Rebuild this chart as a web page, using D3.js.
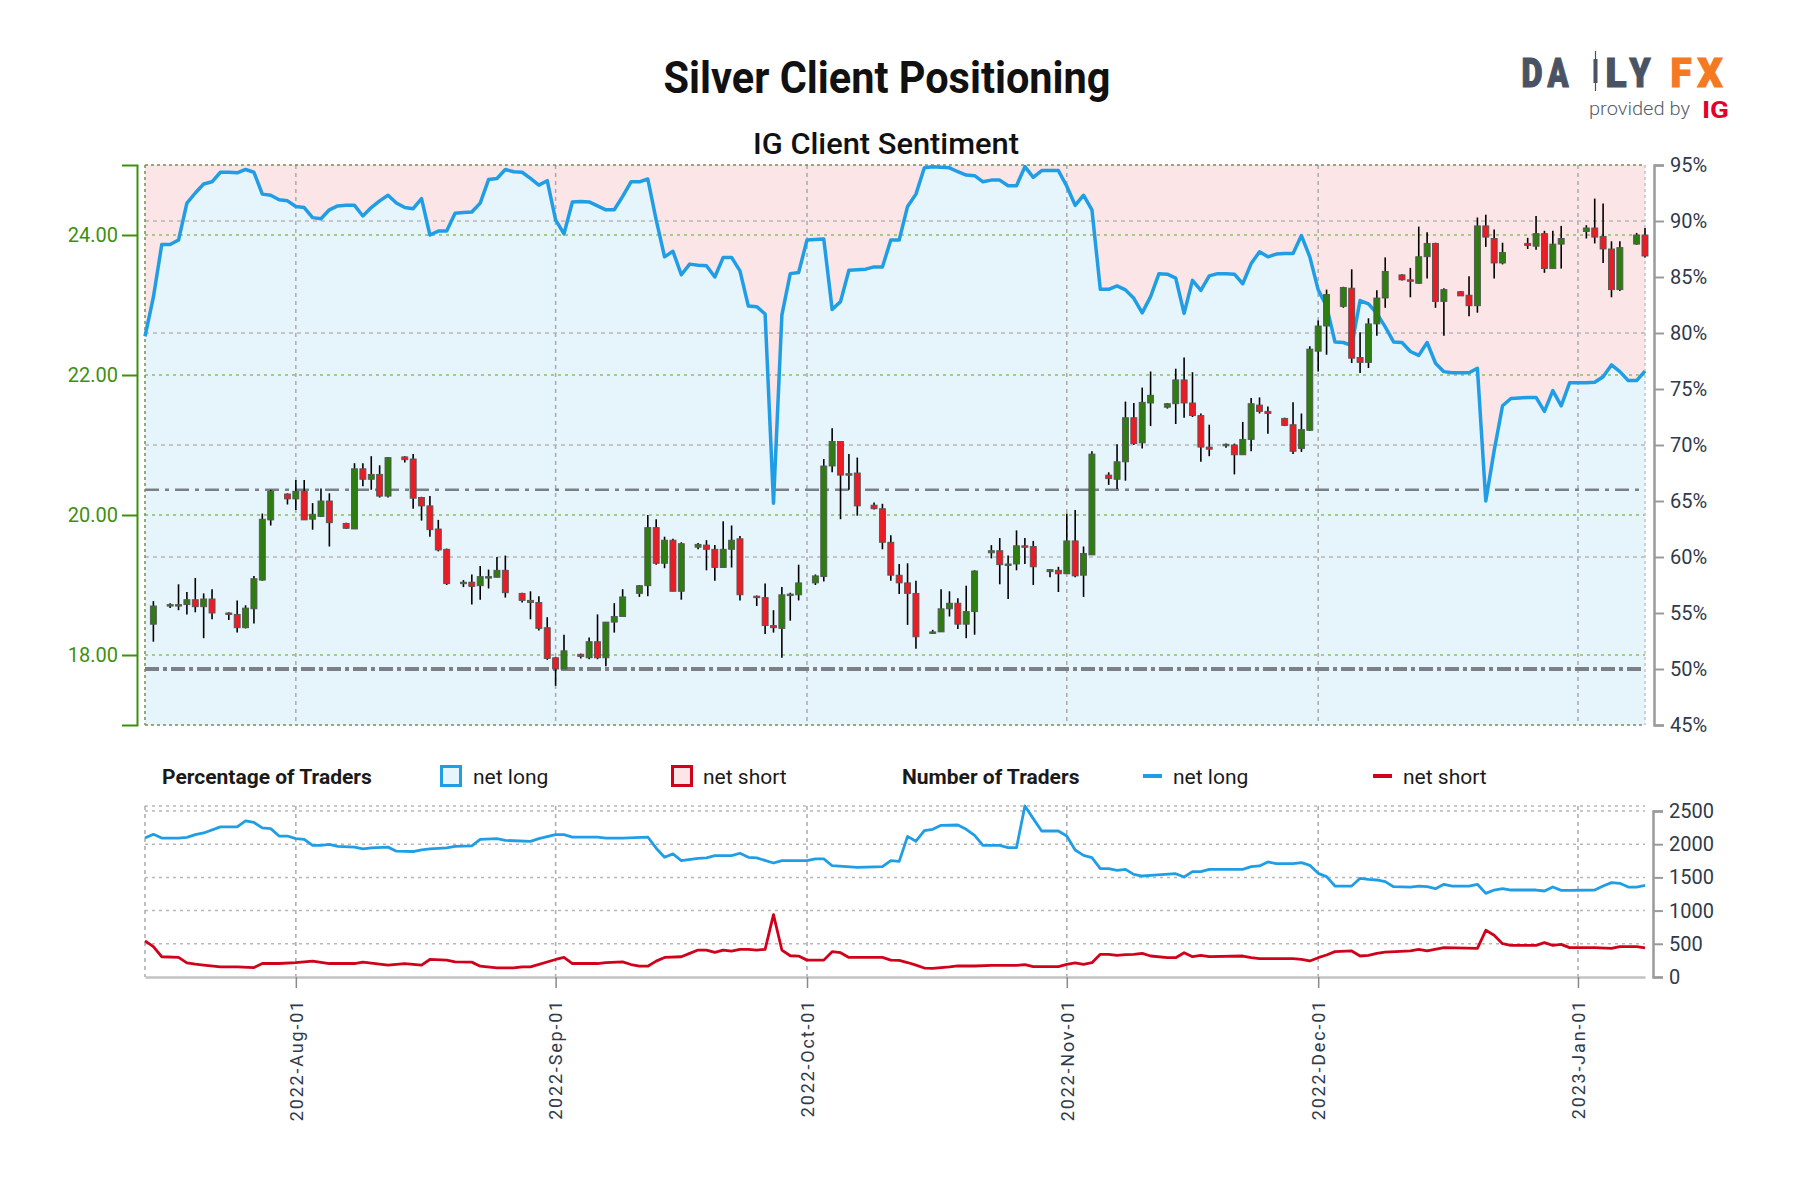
<!DOCTYPE html>
<html>
<head>
<meta charset="utf-8">
<script src="https://cdnjs.cloudflare.com/ajax/libs/d3/7.8.5/d3.min.js"></script>
<style>
  body { margin: 0; background: #fff; }
  svg { display: block; font-family: Roboto, "Noto Sans", sans-serif; }
</style>
</head>
<body>
<svg id="chart" width="1800" height="1200"></svg>
<script>
// daily silver candles: date, open, high, low, close
const priceRows = [
  ['2022-07-15',18.44,18.77,18.19,18.70],['2022-07-17',18.70,18.74,18.67,18.72],['2022-07-18',18.71,19.01,18.64,18.72],
  ['2022-07-19',18.72,18.90,18.58,18.79],['2022-07-20',18.79,19.10,18.61,18.69],['2022-07-21',18.69,18.88,18.24,18.80],
  ['2022-07-22',18.80,18.94,18.51,18.60],['2022-07-24',18.60,18.61,18.50,18.58],['2022-07-25',18.58,18.78,18.32,18.39],
  ['2022-07-26',18.39,18.71,18.38,18.67],['2022-07-27',18.66,19.13,18.45,19.09],['2022-07-28',19.07,20.02,19.06,19.94],
  ['2022-07-29',19.93,20.36,19.85,20.34],['2022-07-31',20.30,20.31,20.15,20.23],['2022-08-01',20.23,20.50,20.07,20.34],
  ['2022-08-02',20.34,20.50,19.93,19.93],['2022-08-03',19.94,20.17,19.79,20.01],['2022-08-04',19.98,20.38,19.97,20.20],
  ['2022-08-05',20.20,20.31,19.55,19.89],['2022-08-07',19.88,19.89,19.80,19.81],['2022-08-08',19.80,20.74,19.80,20.66],
  ['2022-08-09',20.66,20.74,20.41,20.51],['2022-08-10',20.51,20.84,20.36,20.58],['2022-08-11',20.58,20.71,20.25,20.27],
  ['2022-08-12',20.27,20.83,20.25,20.82],['2022-08-14',20.83,20.84,20.75,20.79],['2022-08-15',20.80,20.87,20.09,20.24],
  ['2022-08-16',20.25,20.26,19.92,20.13],['2022-08-17',20.13,20.27,19.69,19.79],['2022-08-18',19.80,19.93,19.48,19.50],
  ['2022-08-19',19.51,19.52,19.00,19.02],['2022-08-21',19.03,19.07,18.97,19.04],['2022-08-22',19.04,19.15,18.72,18.98],
  ['2022-08-23',18.99,19.27,18.79,19.12],['2022-08-24',19.12,19.22,18.95,19.12],['2022-08-25',19.11,19.40,19.11,19.21],
  ['2022-08-26',19.21,19.42,18.82,18.89],['2022-08-28',18.88,18.89,18.75,18.78],['2022-08-29',18.78,18.91,18.51,18.75],
  ['2022-08-30',18.75,18.84,18.35,18.38],['2022-08-31',18.39,18.54,17.93,17.95],['2022-09-01',17.96,17.97,17.56,17.80],
  ['2022-09-02',17.80,18.29,17.80,18.06],['2022-09-04',18.01,18.02,17.95,17.98],['2022-09-05',17.96,18.25,17.94,18.19],
  ['2022-09-06',18.19,18.58,17.94,17.96],['2022-09-07',17.96,18.47,17.84,18.47],['2022-09-08',18.47,18.74,18.32,18.55],
  ['2022-09-09',18.55,18.94,18.55,18.83],['2022-09-11',18.88,19.00,18.83,18.99],['2022-09-12',18.99,20.00,18.84,19.82],
  ['2022-09-13',19.82,19.94,19.29,19.31],['2022-09-14',19.31,19.69,19.24,19.64],['2022-09-15',19.64,19.66,18.91,18.91],
  ['2022-09-16',18.91,19.61,18.79,19.59],['2022-09-18',19.54,19.60,19.51,19.58],['2022-09-19',19.57,19.64,19.21,19.51],
  ['2022-09-20',19.51,19.57,19.06,19.25],['2022-09-21',19.25,19.91,19.25,19.51],['2022-09-22',19.51,19.85,19.25,19.64],
  ['2022-09-23',19.66,19.70,18.78,18.86],['2022-09-25',18.84,18.85,18.70,18.82],['2022-09-26',18.82,19.02,18.30,18.42],
  ['2022-09-27',18.42,18.64,18.32,18.39],['2022-09-28',18.38,18.97,17.96,18.86],['2022-09-29',18.86,18.89,18.49,18.87],
  ['2022-09-30',18.86,19.29,18.78,19.03],['2022-10-02',19.03,19.15,19.00,19.13],['2022-10-03',19.12,20.80,19.05,20.70],
  ['2022-10-04',20.70,21.24,20.61,21.05],['2022-10-05',21.05,21.05,19.94,20.57],['2022-10-06',20.58,20.87,20.36,20.59],
  ['2022-10-07',20.60,20.82,19.99,20.13],['2022-10-09',20.14,20.18,20.08,20.09],['2022-10-10',20.09,20.16,19.51,19.61],
  ['2022-10-11',19.61,19.71,19.06,19.14],['2022-10-12',19.14,19.30,18.87,19.03],['2022-10-13',19.03,19.31,18.43,18.88],
  ['2022-10-14',18.88,19.06,18.09,18.26],['2022-10-16',18.31,18.36,18.30,18.33],['2022-10-17',18.33,18.94,18.33,18.66],
  ['2022-10-18',18.66,18.91,18.55,18.74],['2022-10-19',18.74,18.81,18.37,18.44],['2022-10-20',18.44,18.99,18.24,18.62],
  ['2022-10-21',18.62,19.21,18.29,19.20],['2022-10-23',19.46,19.57,19.38,19.49],['2022-10-24',19.49,19.67,19.01,19.29],
  ['2022-10-25',19.29,19.42,18.80,19.30],['2022-10-26',19.30,19.78,19.21,19.56],['2022-10-27',19.56,19.67,19.30,19.54],
  ['2022-10-28',19.55,19.63,19.00,19.26],['2022-10-30',19.19,19.23,19.11,19.22],['2022-10-31',19.21,19.26,18.90,19.16],
  ['2022-11-01',19.16,20.02,19.16,19.63],['2022-11-02',19.63,20.07,19.11,19.13],['2022-11-03',19.14,19.55,18.83,19.45],
  ['2022-11-04',19.43,20.91,19.43,20.87],['2022-11-06',20.57,20.61,20.43,20.52],['2022-11-07',20.51,21.01,20.37,20.76],
  ['2022-11-08',20.76,21.62,20.49,21.39],['2022-11-09',21.39,21.60,21.00,21.02],['2022-11-10',21.03,21.82,20.95,21.61],
  ['2022-11-11',21.60,22.05,21.27,21.71],['2022-11-13',21.54,21.60,21.52,21.59],['2022-11-14',21.59,22.09,21.30,21.93],
  ['2022-11-15',21.93,22.25,21.39,21.60],['2022-11-16',21.60,22.04,21.40,21.42],['2022-11-17',21.42,21.45,20.76,20.97],
  ['2022-11-18',20.97,21.29,20.84,20.94],['2022-11-20',21.00,21.02,20.96,21.01],['2022-11-21',21.00,21.02,20.58,20.86],
  ['2022-11-22',20.86,21.33,20.86,21.08],['2022-11-23',21.08,21.67,20.91,21.59],['2022-11-24',21.57,21.68,21.45,21.48],
  ['2022-11-25',21.48,21.55,21.16,21.45],['2022-11-27',21.38,21.39,21.27,21.28],['2022-11-28',21.29,21.61,20.87,20.91],
  ['2022-11-29',20.95,21.45,20.90,21.22],['2022-11-30',21.21,22.41,21.20,22.37],['2022-12-01',22.34,22.78,22.05,22.70],
  ['2022-12-02',22.70,23.22,22.29,23.15],['2022-12-04',22.98,23.26,22.96,23.25],['2022-12-05',23.24,23.51,22.17,22.24],
  ['2022-12-06',22.25,22.61,22.03,22.18],['2022-12-07',22.18,22.81,22.10,22.73],['2022-12-08',22.73,23.21,22.56,23.10],
  ['2022-12-09',23.10,23.68,22.96,23.48],['2022-12-11',23.43,23.44,23.35,23.36],['2022-12-12',23.36,23.53,23.11,23.35],
  ['2022-12-13',23.31,24.12,23.30,23.69],['2022-12-14',23.69,24.04,23.38,23.88],['2022-12-15',23.88,23.89,22.96,23.05],
  ['2022-12-16',23.05,23.24,22.56,23.22],['2022-12-18',23.19,23.20,23.13,23.13],['2022-12-19',23.14,23.41,22.84,22.99],
  ['2022-12-20',22.99,24.25,22.89,24.13],['2022-12-21',24.13,24.29,23.83,23.97],['2022-12-22',23.95,24.08,23.38,23.60],
  ['2022-12-23',23.60,23.89,23.58,23.75],['2022-12-26',23.88,23.96,23.80,23.85],['2022-12-27',23.84,24.27,23.79,24.02],
  ['2022-12-28',24.02,24.06,23.46,23.52],['2022-12-29',23.52,24.06,23.52,23.87],['2022-12-30',23.87,24.13,23.52,23.95],
  ['2023-01-02',24.05,24.14,23.95,24.10],['2023-01-03',24.10,24.52,23.88,23.97],['2023-01-04',23.98,24.45,23.60,23.80],
  ['2023-01-05',23.80,23.91,23.11,23.22],['2023-01-06',23.22,23.91,23.20,23.82],['2023-01-08',23.87,24.03,23.86,24.00],
  ['2023-01-09',24.00,24.10,23.68,23.70]
];

// % of traders net long
const longPct = [
  ['2022-07-14',79.7],['2022-07-15',83.2],['2022-07-16',87.9],['2022-07-17',87.9],['2022-07-18',88.3],['2022-07-19',91.6],
  ['2022-07-20',92.5],['2022-07-21',93.3],['2022-07-22',93.5],['2022-07-23',94.35],['2022-07-24',94.35],['2022-07-25',94.3],
  ['2022-07-26',94.6],['2022-07-27',94.35],['2022-07-28',92.4],['2022-07-29',92.3],['2022-07-30',91.9],['2022-07-31',91.8],
  ['2022-08-01',91.3],['2022-08-02',91.2],['2022-08-03',90.3],['2022-08-04',90.2],['2022-08-05',91.0],['2022-08-06',91.35],
  ['2022-08-07',91.4],['2022-08-08',91.4],['2022-08-09',90.45],['2022-08-10',91.2],['2022-08-11',91.8],['2022-08-12',92.3],
  ['2022-08-13',91.6],['2022-08-14',91.2],['2022-08-15',91.1],['2022-08-16',92.0],['2022-08-17',88.75],['2022-08-18',89.1],
  ['2022-08-19',89.1],['2022-08-20',90.7],['2022-08-21',90.75],['2022-08-22',90.8],['2022-08-23',91.6],['2022-08-24',93.7],
  ['2022-08-25',93.8],['2022-08-26',94.6],['2022-08-27',94.4],['2022-08-28',94.35],['2022-08-29',93.8],['2022-08-30',93.2],
  ['2022-08-31',93.6],['2022-09-01',90.1],['2022-09-02',88.85],['2022-09-03',91.7],['2022-09-04',91.75],['2022-09-05',91.7],
  ['2022-09-06',91.35],['2022-09-07',91.0],['2022-09-08',91.0],['2022-09-09',92.2],['2022-09-10',93.5],['2022-09-11',93.5],
  ['2022-09-12',93.75],['2022-09-13',90.1],['2022-09-14',86.8],['2022-09-15',87.3],['2022-09-16',85.2],['2022-09-17',86.15],
  ['2022-09-18',86.05],['2022-09-19',86.0],['2022-09-20',85.0],['2022-09-21',86.75],['2022-09-22',86.75],['2022-09-23',85.55],
  ['2022-09-24',82.4],['2022-09-25',82.35],['2022-09-26',81.7],['2022-09-27',64.8],['2022-09-28',81.6],['2022-09-29',85.3],
  ['2022-09-30',85.4],['2022-10-01',88.3],['2022-10-02',88.35],['2022-10-03',88.4],['2022-10-04',82.1],['2022-10-05',82.8],
  ['2022-10-06',85.6],['2022-10-07',85.65],['2022-10-08',85.7],['2022-10-09',85.9],['2022-10-10',85.9],['2022-10-11',88.3],
  ['2022-10-12',88.3],['2022-10-13',91.3],['2022-10-14',92.4],['2022-10-15',94.75],['2022-10-16',94.85],['2022-10-17',94.8],
  ['2022-10-18',94.75],['2022-10-19',94.4],['2022-10-20',94.1],['2022-10-21',94.05],['2022-10-22',93.5],['2022-10-23',93.65],
  ['2022-10-24',93.65],['2022-10-25',93.15],['2022-10-26',93.15],['2022-10-27',94.85],['2022-10-28',93.9],['2022-10-29',94.5],
  ['2022-10-30',94.5],['2022-10-31',94.5],['2022-11-01',93.1],['2022-11-02',91.4],['2022-11-03',92.3],['2022-11-04',91.0],
  ['2022-11-05',83.9],['2022-11-06',83.9],['2022-11-07',84.2],['2022-11-08',83.85],['2022-11-09',83.1],['2022-11-10',81.8],
  ['2022-11-11',83.25],['2022-11-12',85.3],['2022-11-13',85.25],['2022-11-14',84.9],['2022-11-15',81.75],['2022-11-16',84.7],
  ['2022-11-17',83.8],['2022-11-18',85.1],['2022-11-19',85.3],['2022-11-20',85.3],['2022-11-21',85.25],['2022-11-22',84.4],
  ['2022-11-23',86.2],['2022-11-24',87.25],['2022-11-25',86.8],['2022-11-26',87.05],['2022-11-27',87.1],['2022-11-28',87.1],
  ['2022-11-29',88.7],['2022-11-30',86.8],['2022-12-01',83.85],['2022-12-02',82.4],['2022-12-03',79.2],['2022-12-04',79.15],
  ['2022-12-05',78.9],['2022-12-06',82.9],['2022-12-07',82.6],['2022-12-08',81.75],['2022-12-09',80.55],['2022-12-10',79.2],
  ['2022-12-11',79.15],['2022-12-12',78.35],['2022-12-13',78.0],['2022-12-14',79.15],['2022-12-15',77.3],['2022-12-16',76.55],
  ['2022-12-17',76.45],['2022-12-18',76.45],['2022-12-19',76.45],['2022-12-20',76.85],['2022-12-21',65.0],['2022-12-22',69.5],
  ['2022-12-23',73.5],['2022-12-24',74.15],['2022-12-25',74.2],['2022-12-26',74.25],['2022-12-27',74.25],['2022-12-28',73.0],
  ['2022-12-29',74.85],['2022-12-30',73.5],['2022-12-31',75.55],['2023-01-01',75.55],['2023-01-02',75.55],['2023-01-03',75.6],
  ['2023-01-04',76.1],['2023-01-05',77.15],['2023-01-06',76.55],['2023-01-07',75.75],['2023-01-08',75.75],['2023-01-09',76.6]
];

// number of traders
const longTraders = [
  ['2022-07-14',2093],['2022-07-15',2149],['2022-07-16',2093],['2022-07-18',2093],['2022-07-19',2103],['2022-07-20',2144],
  ['2022-07-21',2169],['2022-07-23',2261],['2022-07-25',2261],['2022-07-26',2352],['2022-07-27',2327],['2022-07-28',2245],
  ['2022-07-29',2235],['2022-07-30',2123],['2022-07-31',2123],['2022-08-01',2083],['2022-08-02',2073],['2022-08-03',1981],
  ['2022-08-04',1981],['2022-08-05',1996],['2022-08-06',1966],['2022-08-08',1956],['2022-08-09',1930],['2022-08-10',1946],
  ['2022-08-12',1956],['2022-08-13',1895],['2022-08-15',1890],['2022-08-16',1915],['2022-08-17',1930],['2022-08-19',1946],
  ['2022-08-20',1966],['2022-08-22',1976],['2022-08-23',2073],['2022-08-25',2083],['2022-08-26',2057],['2022-08-29',2042],
  ['2022-08-30',2083],['2022-09-01',2144],['2022-09-02',2144],['2022-09-03',2108],['2022-09-06',2108],['2022-09-07',2093],
  ['2022-09-09',2093],['2022-09-12',2108],['2022-09-13',1940],['2022-09-14',1803],['2022-09-15',1854],['2022-09-16',1753],
  ['2022-09-18',1788],['2022-09-19',1793],['2022-09-20',1829],['2022-09-22',1829],['2022-09-23',1864],['2022-09-24',1803],
  ['2022-09-25',1793],['2022-09-27',1717],['2022-09-28',1753],['2022-10-01',1753],['2022-10-02',1778],['2022-10-03',1778],
  ['2022-10-04',1676],['2022-10-07',1651],['2022-10-10',1661],['2022-10-11',1753],['2022-10-12',1742],['2022-10-13',2118],
  ['2022-10-14',2045],['2022-10-15',2205],['2022-10-16',2225],['2022-10-17',2285],['2022-10-19',2289],['2022-10-20',2224],
  ['2022-10-21',2134],['2022-10-22',1983],['2022-10-24',1983],['2022-10-25',1948],['2022-10-26',1948],['2022-10-27',2575],
  ['2022-10-28',2385],['2022-10-29',2199],['2022-10-31',2199],['2022-11-01',2123],['2022-11-02',1913],['2022-11-03',1832],
  ['2022-11-04',1797],['2022-11-05',1632],['2022-11-06',1632],['2022-11-07',1606],['2022-11-08',1621],['2022-11-09',1546],
  ['2022-11-10',1521],['2022-11-11',1531],['2022-11-14',1556],['2022-11-15',1506],['2022-11-16',1586],['2022-11-17',1586],
  ['2022-11-18',1621],['2022-11-22',1621],['2022-11-23',1662],['2022-11-24',1672],['2022-11-25',1732],['2022-11-26',1707],
  ['2022-11-28',1707],['2022-11-29',1722],['2022-11-30',1682],['2022-12-01',1561],['2022-12-02',1511],['2022-12-03',1370],
  ['2022-12-05',1370],['2022-12-06',1486],['2022-12-07',1471],['2022-12-08',1461],['2022-12-09',1436],['2022-12-10',1360],
  ['2022-12-12',1355],['2022-12-13',1370],['2022-12-14',1360],['2022-12-15',1330],['2022-12-16',1396],['2022-12-17',1370],
  ['2022-12-19',1370],['2022-12-20',1396],['2022-12-21',1260],['2022-12-22',1310],['2022-12-23',1330],['2022-12-24',1310],
  ['2022-12-27',1310],['2022-12-28',1295],['2022-12-29',1355],['2022-12-30',1305],['2022-12-31',1305],['2023-01-03',1310],
  ['2023-01-04',1370],['2023-01-05',1421],['2023-01-06',1411],['2023-01-07',1355],['2023-01-08',1355],['2023-01-09',1380]
];
const shortTraders = [
  ['2022-07-14',544],['2022-07-15',457],['2022-07-16',305],['2022-07-18',295],['2022-07-19',213],['2022-07-20',193],
  ['2022-07-21',178],['2022-07-23',152],['2022-07-25',152],['2022-07-27',142],['2022-07-28',203],['2022-07-30',203],
  ['2022-08-01',218],['2022-08-03',239],['2022-08-05',203],['2022-08-08',203],['2022-08-09',224],['2022-08-12',178],
  ['2022-08-14',203],['2022-08-16',178],['2022-08-17',264],['2022-08-19',254],['2022-08-20',229],['2022-08-22',224],
  ['2022-08-23',163],['2022-08-25',137],['2022-08-27',137],['2022-08-28',152],['2022-08-29',152],['2022-09-01',264],
  ['2022-09-02',295],['2022-09-03',203],['2022-09-06',203],['2022-09-07',218],['2022-09-09',229],['2022-09-10',188],
  ['2022-09-11',163],['2022-09-12',163],['2022-09-13',239],['2022-09-14',295],['2022-09-16',305],['2022-09-17',356],
  ['2022-09-18',406],['2022-09-19',406],['2022-09-20',370],['2022-09-21',406],['2022-09-22',391],['2022-09-23',417],
  ['2022-09-24',417],['2022-09-25',406],['2022-09-26',417],['2022-09-27',940],['2022-09-28',406],['2022-09-29',320],
  ['2022-09-30',315],['2022-10-01',254],['2022-10-03',254],['2022-10-04',381],['2022-10-05',366],['2022-10-06',295],
  ['2022-10-10',295],['2022-10-11',254],['2022-10-12',250],['2022-10-13',218],['2022-10-14',178],['2022-10-15',135],
  ['2022-10-16',130],['2022-10-18',151],['2022-10-19',166],['2022-10-21',166],['2022-10-23',176],['2022-10-26',176],
  ['2022-10-27',186],['2022-10-28',156],['2022-10-31',156],['2022-11-01',191],['2022-11-02',211],['2022-11-03',191],
  ['2022-11-04',216],['2022-11-05',341],['2022-11-06',341],['2022-11-07',326],['2022-11-08',336],['2022-11-09',341],
  ['2022-11-10',356],['2022-11-11',316],['2022-11-13',291],['2022-11-14',291],['2022-11-15',366],['2022-11-16',306],
  ['2022-11-17',326],['2022-11-18',306],['2022-11-22',316],['2022-11-23',291],['2022-11-24',276],['2022-11-28',276],
  ['2022-11-29',266],['2022-11-30',241],['2022-12-01',291],['2022-12-02',331],['2022-12-03',382],['2022-12-05',392],
  ['2022-12-06',316],['2022-12-07',326],['2022-12-08',356],['2022-12-09',376],['2022-12-12',392],['2022-12-13',417],
  ['2022-12-14',392],['2022-12-16',442],['2022-12-20',432],['2022-12-21',703],['2022-12-22',628],['2022-12-23',502],
  ['2022-12-24',477],['2022-12-27',477],['2022-12-28',517],['2022-12-29',477],['2022-12-30',492],['2022-12-31',442],
  ['2023-01-03',442],['2023-01-05',432],['2023-01-06',457],['2023-01-08',457],['2023-01-09',437]
];

const priceTicks = [18, 20, 22, 24];
const pctTicks = [45, 50, 55, 60, 65, 70, 75, 80, 85, 90, 95];
const pctGrid = [60, 70, 80, 90];
const traderTicks = [0, 500, 1000, 1500, 2000, 2500];
const monthTicks = ['2022-08-01', '2022-09-01', '2022-10-01', '2022-11-01', '2022-12-01', '2023-01-01'];

const parse = d3.utcParse('%Y-%m-%d');
const candles = priceRows.map(r => ({date: parse(r[0]), open: r[1], high: r[2], low: r[3], close: r[4]}));
const pct = longPct.map(r => ({date: parse(r[0]), value: r[1]}));
const longTr = longTraders.map(r => ({date: parse(r[0]), value: r[1]}));
const shortTr = shortTraders.map(r => ({date: parse(r[0]), value: r[1]}));
const months = monthTicks.map(parse);

const left = 145, right = 1645;
const mainTop = 165, mainBottom = 725;
const lowTop = 806;

const x = d3.scaleUtc().domain([parse('2022-07-14'), parse('2023-01-09')]).range([left, right]);
const yPrice = d3.scaleLinear().domain([17, 25]).range([mainBottom, mainTop]);
const yPct = d3.scaleLinear().domain([45, 95]).range([mainBottom, mainTop]);
const yTr = d3.scaleLinear().domain([0, 2500]).range([977, 811]);

const svg = d3.select('#chart');
const ink = '#2f3a4a';

// titles
svg.append('text').attr('x', 887).attr('y', 93).attr('text-anchor', 'middle')
  .attr('font-size', 44).attr('font-weight', 700).attr('fill', '#111')
  .attr('textLength', 447).attr('lengthAdjust', 'spacingAndGlyphs')
  .text('Silver Client Positioning');
svg.append('text').attr('x', 886).attr('y', 154).attr('text-anchor', 'middle')
  .attr('font-size', 29).attr('font-weight', 500).attr('fill', '#111')
  .attr('textLength', 266).attr('lengthAdjust', 'spacingAndGlyphs')
  .text('IG Client Sentiment');

// logo
const logo = svg.append('g').attr('font-weight', 900).attr('font-size', 40);
[['D', 1532, '#4a5363'], ['A', 1558, '#4a5363'], ['L', 1616, '#4a5363'], ['Y', 1640, '#4a5363'],
 ['F', 1681, '#f47920'], ['X', 1710, '#f47920']].forEach(([t, cx, c]) => {
  logo.append('text').attr('x', cx).attr('y', 87).attr('text-anchor', 'middle').attr('fill', c)
    .attr('stroke', c).attr('stroke-width', 1.2)
    .attr('textLength', t === 'X' ? 25 : 21).attr('lengthAdjust', 'spacingAndGlyphs').text(t);
});
logo.append('line').attr('x1', 1595.5).attr('x2', 1595.5).attr('y1', 51).attr('y2', 91)
  .attr('stroke', '#4a5363').attr('stroke-width', 1.2);
logo.append('rect').attr('x', 1593.5).attr('y', 59).attr('width', 4).attr('height', 24).attr('fill', '#4a5363');
svg.append('text').attr('x', 1589).attr('y', 115).attr('font-size', 18).attr('font-weight', 300)
  .attr('fill', '#555d6b').attr('textLength', 101).attr('lengthAdjust', 'spacingAndGlyphs').text('provided by');
svg.append('text').attr('x', 1702).attr('y', 118).attr('font-size', 24).attr('font-weight', 700)
  .attr('fill', '#e4002b').attr('textLength', 27).attr('lengthAdjust', 'spacingAndGlyphs').text('IG');

// ---- main panel ----
const main = svg.append('g');
main.append('rect').attr('x', left).attr('y', mainTop).attr('width', right - left)
  .attr('height', mainBottom - mainTop).attr('fill', '#fbe5e7');
main.append('path').datum(pct)
  .attr('d', d3.area().x(d => x(d.date)).y0(mainBottom).y1(d => yPct(d.value)))
  .attr('fill', '#e6f4fc');

// grids
main.selectAll('.vgrid').data(months).join('line')
  .attr('x1', d => x(d)).attr('x2', d => x(d)).attr('y1', mainTop).attr('y2', mainBottom)
  .attr('stroke', '#aaaaaa').attr('stroke-width', 1.5).attr('stroke-dasharray', '4,4');
main.selectAll('.pgrid').data(pctGrid).join('line')
  .attr('x1', left).attr('x2', right).attr('y1', d => yPct(d)).attr('y2', d => yPct(d))
  .attr('stroke', '#b8b8b8').attr('stroke-width', 1.5).attr('stroke-dasharray', '4,4');
main.selectAll('.prgrid').data(priceTicks).join('line')
  .attr('x1', left).attr('x2', right).attr('y1', d => yPrice(d)).attr('y2', d => yPrice(d))
  .attr('stroke', '#8cc063').attr('stroke-width', 1.5).attr('stroke-dasharray', '3,4');
main.selectAll('.border').data([17, 25]).join('line')
  .attr('x1', left).attr('x2', right).attr('y1', d => yPrice(d)).attr('y2', d => yPrice(d))
  .attr('stroke', '#6f9150').attr('stroke-width', 1.5).attr('stroke-dasharray', '3,3');
main.append('line').attr('x1', left).attr('x2', left).attr('y1', mainTop).attr('y2', mainBottom)
  .attr('stroke', '#6f9150').attr('stroke-width', 1.5).attr('stroke-dasharray', '3,3');
main.append('line').attr('x1', right).attr('x2', right).attr('y1', mainTop).attr('y2', mainBottom)
  .attr('stroke', '#c4c4c4').attr('stroke-width', 1.5).attr('stroke-dasharray', '3,3');

// reference levels
main.append('line').attr('x1', left).attr('x2', right).attr('y1', yPct(50)).attr('y2', yPct(50))
  .attr('stroke', '#7b8086').attr('stroke-width', 4).attr('stroke-dasharray', '14,4,4,4');
main.append('line').attr('x1', left).attr('x2', right).attr('y1', yPct(66)).attr('y2', yPct(66))
  .attr('stroke', '#7b8086').attr('stroke-width', 2.5).attr('stroke-dasharray', '14,6,4,6');

// sentiment line
main.append('path').datum(pct)
  .attr('d', d3.line().x(d => x(d.date)).y(d => yPct(d.value)))
  .attr('fill', 'none').attr('stroke', '#1f9ee6').attr('stroke-width', 3.5).attr('stroke-linejoin', 'round');

// candles
const cg = main.selectAll('.candle').data(candles).join('g');
cg.append('line')
  .attr('x1', d => x(d.date)).attr('x2', d => x(d.date))
  .attr('y1', d => yPrice(d.high)).attr('y2', d => yPrice(d.low))
  .attr('stroke', '#000').attr('stroke-width', 1.6);
cg.append('rect')
  .attr('x', d => x(d.date) - 3).attr('width', 6)
  .attr('y', d => yPrice(Math.max(d.open, d.close)))
  .attr('height', d => Math.max(1.5, Math.abs(yPrice(d.open) - yPrice(d.close))))
  .attr('fill', d => d.close >= d.open ? '#2e7d10' : '#ec1c24')
  .attr('stroke', '#555').attr('stroke-width', 0.9);

// axes
const priceAxis = svg.append('g').attr('transform', 'translate(137,0)')
  .call(d3.axisLeft(yPrice).tickValues(priceTicks).tickFormat(d3.format('.2f'))
    .tickSize(15).tickSizeOuter(15).tickPadding(4))
  .attr('font-size', 20).attr('font-family', 'Roboto, sans-serif');
priceAxis.select('.domain').attr('stroke', '#3f8f0f').attr('stroke-width', 2);
priceAxis.selectAll('.tick line').attr('stroke', '#3f8f0f').attr('stroke-width', 2);
priceAxis.selectAll('.tick text').attr('fill', '#3f8f0f');

const pctAxis = svg.append('g').attr('transform', 'translate(1654,0)')
  .call(d3.axisRight(yPct).tickValues(pctTicks).tickFormat(d => d + '%')
    .tickSize(10).tickSizeOuter(10).tickPadding(6))
  .attr('font-size', 20).attr('font-family', 'Roboto, sans-serif');
pctAxis.select('.domain').attr('stroke', '#9a9a9a').attr('stroke-width', 2.5);
pctAxis.selectAll('.tick line').attr('stroke', '#9a9a9a').attr('stroke-width', 2);
pctAxis.selectAll('.tick text').attr('fill', ink);

// ---- legend ----
const lg = svg.append('g').attr('font-size', 21).attr('fill', '#1a1a1a');
lg.append('text').attr('x', 162).attr('y', 784).attr('font-weight', 700).text('Percentage of Traders');
lg.append('rect').attr('x', 441.5).attr('y', 766.5).attr('width', 19).attr('height', 19)
  .attr('fill', '#e6f4fc').attr('stroke', '#1f9ee6').attr('stroke-width', 3);
lg.append('text').attr('x', 473).attr('y', 784).text('net long');
lg.append('rect').attr('x', 672.5).attr('y', 766.5).attr('width', 19).attr('height', 19)
  .attr('fill', '#fbe5e7').attr('stroke', '#d0021b').attr('stroke-width', 3);
lg.append('text').attr('x', 703).attr('y', 784).text('net short');
lg.append('text').attr('x', 902).attr('y', 784).attr('font-weight', 700).text('Number of Traders');
lg.append('line').attr('x1', 1143).attr('x2', 1162).attr('y1', 776).attr('y2', 776)
  .attr('stroke', '#1f9ee6').attr('stroke-width', 4);
lg.append('text').attr('x', 1173).attr('y', 784).text('net long');
lg.append('line').attr('x1', 1373).attr('x2', 1392).attr('y1', 776).attr('y2', 776)
  .attr('stroke', '#d0021b').attr('stroke-width', 4);
lg.append('text').attr('x', 1403).attr('y', 784).text('net short');

// ---- traders panel ----
const low = svg.append('g');
low.selectAll('.tgrid').data(traderTicks.filter(d => d > 0)).join('line')
  .attr('x1', left).attr('x2', right).attr('y1', d => yTr(d)).attr('y2', d => yTr(d))
  .attr('stroke', '#b8b8b8').attr('stroke-width', 1.5).attr('stroke-dasharray', '3,4');
low.append('line').attr('x1', left).attr('x2', right).attr('y1', lowTop).attr('y2', lowTop)
  .attr('stroke', '#b8b8b8').attr('stroke-width', 1.5).attr('stroke-dasharray', '3,4');
low.selectAll('.vg').data(months).join('line')
  .attr('x1', d => x(d)).attr('x2', d => x(d)).attr('y1', lowTop).attr('y2', yTr(0))
  .attr('stroke', '#aaaaaa').attr('stroke-width', 1.5).attr('stroke-dasharray', '4,4');
low.append('line').attr('x1', left).attr('x2', left).attr('y1', lowTop).attr('y2', yTr(0))
  .attr('stroke', '#aaaaaa').attr('stroke-width', 1.5).attr('stroke-dasharray', '4,4');

const trLine = d3.line().x(d => x(d.date)).y(d => yTr(d.value));
low.append('path').datum(longTr).attr('d', trLine)
  .attr('fill', 'none').attr('stroke', '#1f9ee6').attr('stroke-width', 2.8).attr('stroke-linejoin', 'round');
low.append('path').datum(shortTr).attr('d', trLine)
  .attr('fill', 'none').attr('stroke', '#d0021b').attr('stroke-width', 2.8).attr('stroke-linejoin', 'round');

const dateAxis = svg.append('g').attr('transform', `translate(0,${yTr(0)})`)
  .call(d3.axisBottom(x).tickValues(months).tickFormat(d3.utcFormat('%Y-%b-%d'))
    .tickSize(11).tickSizeOuter(0))
  .attr('font-size', 18).attr('font-family', 'Roboto, sans-serif');
dateAxis.select('.domain').attr('stroke', '#c2c2c2').attr('stroke-width', 2.5);
dateAxis.selectAll('.tick line').attr('stroke', '#8a8a8a').attr('stroke-width', 1.5);
dateAxis.selectAll('.tick text')
  .attr('fill', ink).attr('letter-spacing', 1.8)
  .attr('transform', 'rotate(-90)').attr('text-anchor', 'end')
  .attr('x', -22).attr('y', 0).attr('dy', '0.35em');

const trAxis = svg.append('g').attr('transform', 'translate(1653,0)')
  .call(d3.axisRight(yTr).tickValues(traderTicks).tickFormat(d3.format('d'))
    .tickSize(10).tickSizeOuter(10).tickPadding(6))
  .attr('font-size', 20).attr('font-family', 'Roboto, sans-serif');
trAxis.select('.domain').attr('stroke', '#9a9a9a').attr('stroke-width', 2.5);
trAxis.selectAll('.tick line').attr('stroke', '#9a9a9a').attr('stroke-width', 2);
trAxis.selectAll('.tick text').attr('fill', ink);
</script>
</body>
</html>
